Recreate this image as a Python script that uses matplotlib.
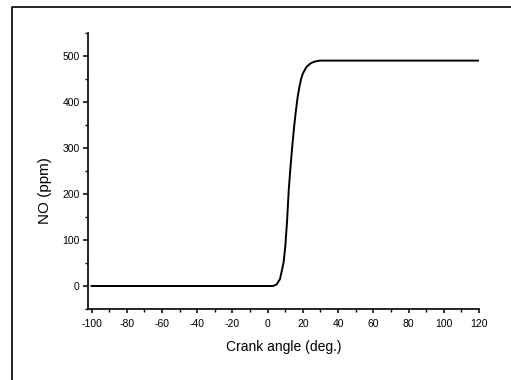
import matplotlib

matplotlib.use("Agg")

import matplotlib.pyplot as plt
from matplotlib.lines import Line2D
from matplotlib.ticker import MultipleLocator

# crank angle (deg.) and NO concentration (ppm)
crank_angle = [-100, 0, 3, 5, 7, 9, 10, 11, 12, 13, 14, 15, 16, 17, 18,
               19, 20, 22, 24, 26, 28, 30, 35, 120]
no_ppm = [0, 0, 0, 3, 15, 50, 85, 140, 210, 260, 305, 345, 380, 410, 432,
          450, 462, 476, 483, 487, 489, 490, 490, 490]

x_ticks = list(range(-100, 121, 20))
y_ticks = list(range(0, 501, 100))

plt.rcParams["font.family"] = ["Liberation Sans", "DejaVu Sans"]
plt.rcParams["axes.unicode_minus"] = False

fig = plt.figure(figsize=(5.11, 3.8), dpi=100)
ax = fig.add_axes([88 / 511, 1 - 309 / 380, (479 - 88) / 511, (309 - 33) / 380])

ax.plot(crank_angle, no_ppm, color="black", linewidth=1.4)

ax.set_xlim(-102, 120)
ax.set_ylim(-50, 550)
ax.set_xticks(x_ticks)
ax.set_yticks(y_ticks)
ax.xaxis.set_minor_locator(MultipleLocator(10))
ax.yaxis.set_minor_locator(MultipleLocator(50))

for side in ("top", "right"):
    ax.spines[side].set_visible(False)
for side in ("left", "bottom"):
    ax.spines[side].set_linewidth(1.2)

ax.tick_params(which="major", direction="out", width=1.1, labelsize=7.5)
ax.tick_params(axis="x", which="major", length=3, pad=4)
ax.tick_params(axis="y", which="major", length=3.6, pad=2.5)
ax.tick_params(which="minor", direction="out", length=2, width=1.0)

ax.set_xlabel("Crank angle (deg.)", fontsize=10)
ax.xaxis.set_label_coords(0.5, -0.112)
ax.set_ylabel("NO (ppm)", fontsize=11)
ax.yaxis.set_label_coords(-0.092, 0.428)

# outer frame of the scanned figure (left and top edges)
fig.add_artist(Line2D([12 / 511, 12 / 511, 1.0], [0.0, 1 - 7 / 380, 1 - 7 / 380],
                      transform=fig.transFigure, color="black", linewidth=1.2))

fig.savefig("out.png", dpi=100)
plt.close(fig)
